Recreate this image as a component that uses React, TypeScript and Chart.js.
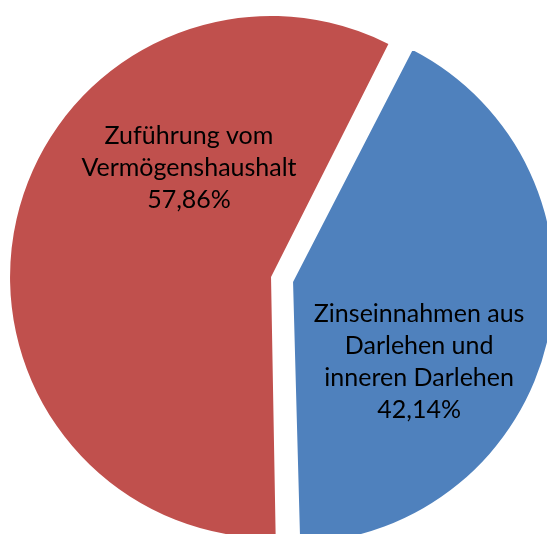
import { useEffect, useRef } from 'react';
import { Chart, registerables } from 'chart.js';

Chart.register(...registerables);

const categories = [
  'Zinseinnahmen aus Darlehen und inneren Darlehen',
  'Zuführung vom Vermögenshaushalt',
];
const labelLines = [
  ['Zinseinnahmen aus', 'Darlehen und', 'inneren Darlehen'],
  ['Zuführung vom', 'Vermögenshaushalt'],
];
const shares = [42.14, 57.86];
const sliceColors = ['#4F81BD', '#C0504D'];

const W = 547;
const H = 534;

export default function App() {
  const ref = useRef<HTMLCanvasElement>(null);

  useEffect(() => {
    if (!ref.current) return;
    const anchors = [
      [0.498, 0.349],
      [-0.324, -0.397],
    ];
    const labelPlugin = {
      id: 'sliceLabels',
      afterDatasetsDraw(chart: any) {
        const meta = chart.getDatasetMeta(0);
        const ctx = chart.ctx as CanvasRenderingContext2D;
        ctx.save();
        ctx.font = '25px Lato, "Open Sans", sans-serif';
        ctx.fillStyle = '#000000';
        ctx.textAlign = 'center';
        ctx.textBaseline = 'alphabetic';
        meta.data.forEach((arc: any, i: number) => {
          const p = arc.getProps(['x', 'y', 'startAngle', 'endAngle', 'outerRadius'], true);
          const off = (arc.options.offset || 0) / 4;
          const half = (p.startAngle + p.endAngle) / 2;
          const cx = p.x + Math.cos(half) * off;
          const cy = p.y + Math.sin(half) * off;
          const lx = cx + anchors[i][0] * p.outerRadius;
          const ly = cy + anchors[i][1] * p.outerRadius;
          const lines = [...labelLines[i], shares[i].toFixed(2).replace('.', ',') + '%'];
          lines.forEach((t, j) => {
            ctx.fillText(t, lx, ly + (j - (lines.length - 1) / 2) * 32);
          });
        });
        ctx.restore();
      },
    };

    const chart = new Chart(ref.current, {
      type: 'pie',
      data: {
        labels: categories,
        datasets: [
          {
            data: shares,
            backgroundColor: sliceColors,
            borderWidth: 0,
            offset: [59.3, 31.1],
            radius: 253.2,
            rotation: 27,
            clip: false,
          } as any,
        ],
      },
      options: {
        animation: false,
        responsive: false,
        events: [],
        layout: { padding: { left: 10.2, top: 23.4, right: 0, bottom: 0 } },
        plugins: {
          legend: { display: false },
          tooltip: { enabled: false },
        },
      },
      plugins: [labelPlugin],
    });
    return () => chart.destroy();
  }, []);

  return (
    <div style={{ position: 'absolute', left: 0, top: 0, width: W, height: H, overflow: 'hidden', background: '#ffffff' }}>
      <canvas ref={ref} width={W} height={H} style={{ display: 'block' }} />
    </div>
  );
}
